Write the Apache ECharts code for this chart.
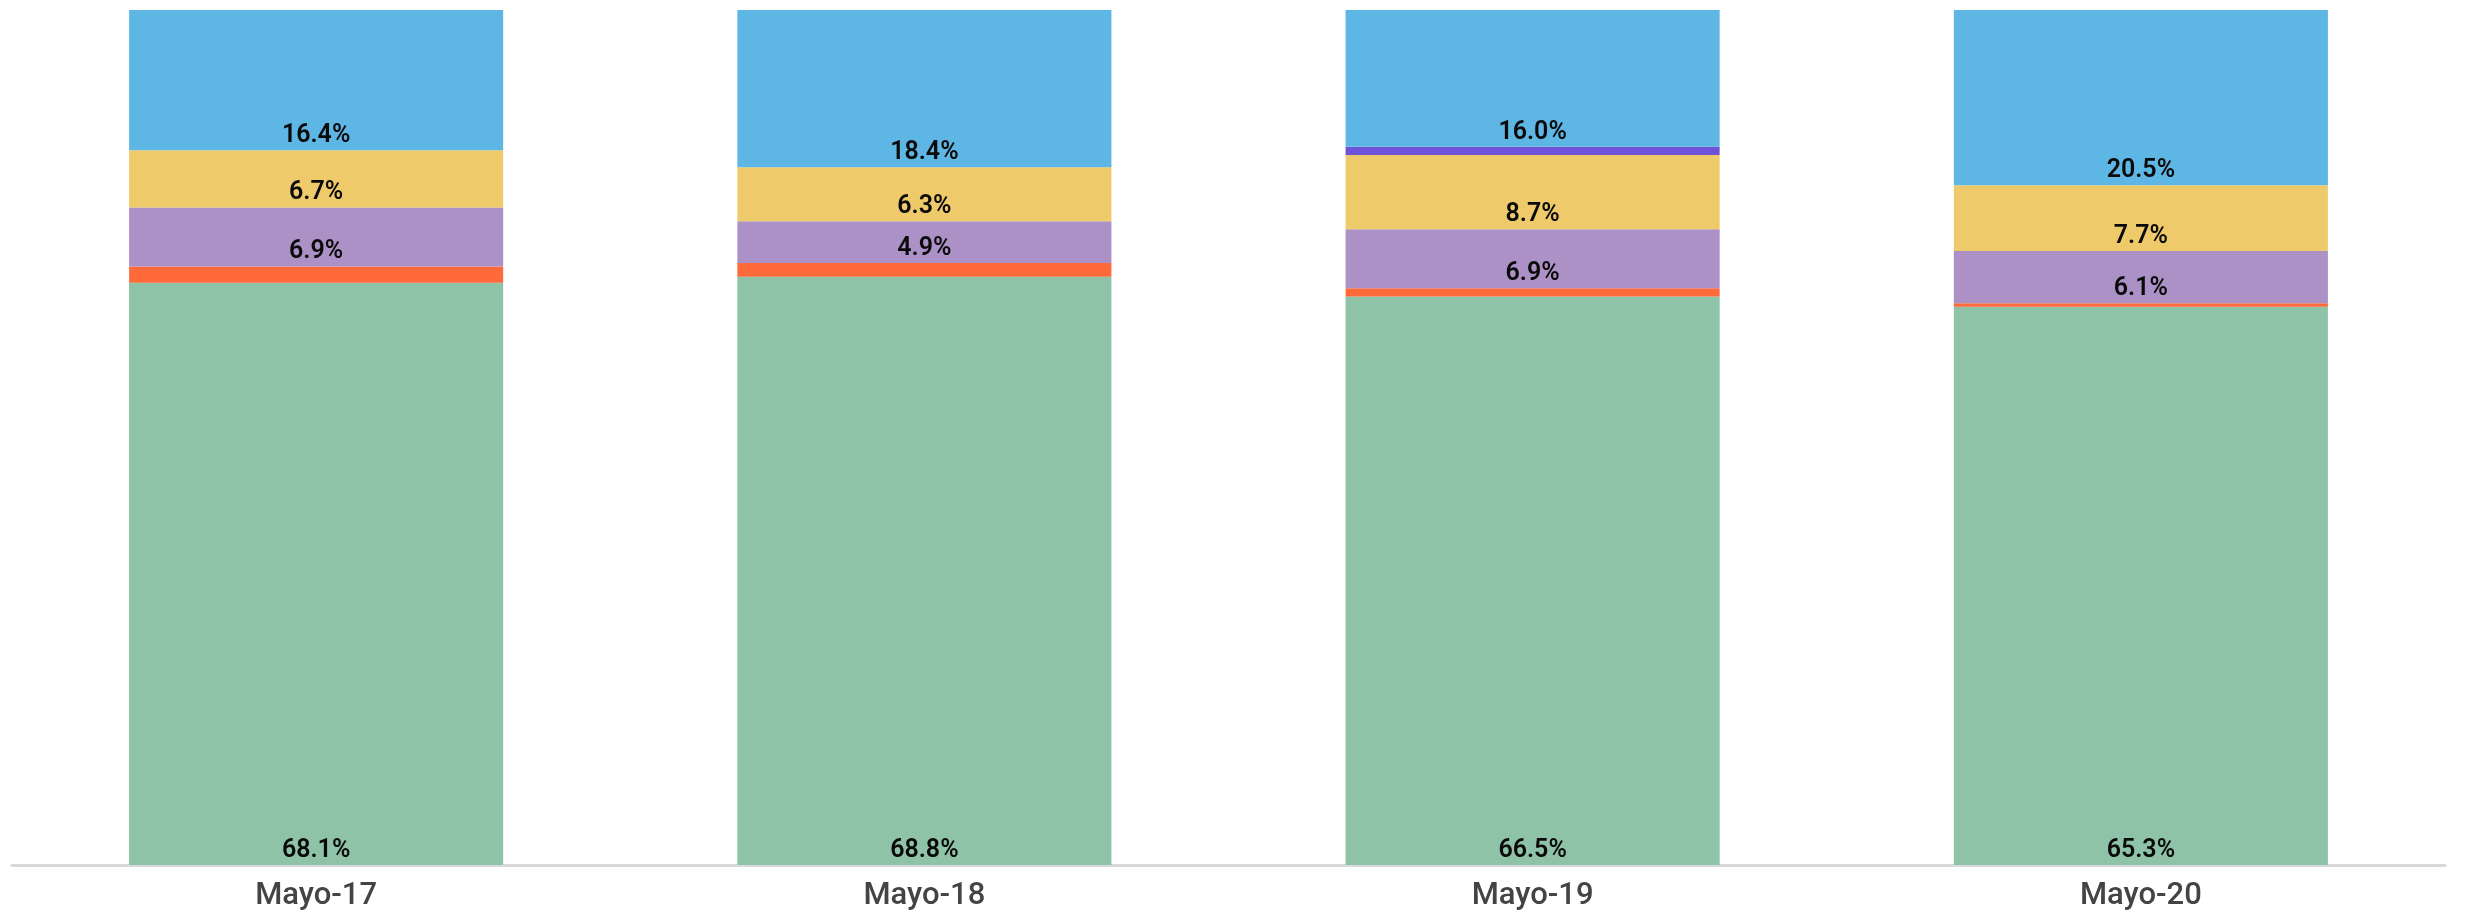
<!DOCTYPE html>
<html>
<head>
<meta charset="utf-8">
<script src="https://cdn.jsdelivr.net/npm/echarts@6/dist/echarts.min.js"></script>
<style>
  html, body { margin: 0; padding: 0; background: #ffffff; }
  #chart { width: 2465px; height: 917px; }
</style>
</head>
<body>
<div id="chart"></div>
<script>
const categories = ['Mayo-17', 'Mayo-18', 'Mayo-19', 'Mayo-20'];
const serieVerde = [68.1, 68.8, 66.5, 65.3];
const serieNaranja = [1.9, 1.6, 0.95, 0.4];
const serieLila = [6.9, 4.9, 6.9, 6.1];
const serieAmarilla = [6.7, 6.3, 8.7, 7.7];
const serieMorada = [0, 0, 0.95, 0];
const serieAzul = [16.4, 18.4, 16.0, 20.5];

const labelStyle = {
  show: true,
  position: 'insideBottom',
  distance: 2,
  color: '#0a0a0a',
  fontFamily: 'Roboto',
  fontWeight: 600,
  fontSize: 25,
  formatter: p => p.value.toFixed(1) + '%'
};

function mk(name, data, color, showLabel) {
  return {
    name: name,
    type: 'bar',
    stack: 'total',
    data: data,
    barWidth: '61.5%',
    itemStyle: { color: color },
    label: showLabel ? labelStyle : { show: false },
    emphasis: { disabled: true }
  };
}

const chart = echarts.init(document.getElementById('chart'), null, { renderer: 'canvas' });
chart.setOption({
  animation: false,
  grid: { left: 12, right: 20, top: 10, bottom: 52, containLabel: false },
  xAxis: {
    type: 'category',
    data: categories,
    axisLine: { show: true, lineStyle: { color: '#d9d9d9', width: 3 } },
    axisTick: { show: false },
    axisLabel: { color: '#444444', fontFamily: 'Roboto', fontWeight: 500, fontSize: 31, margin: 16 }
  },
  yAxis: {
    type: 'value',
    min: 0,
    max: 100,
    show: false,
    splitLine: { show: false }
  },
  series: [
    mk('Verde', serieVerde, '#8EC3A7', true),
    mk('Naranja', serieNaranja, '#FE6A3A', false),
    mk('Lila', serieLila, '#AC91C6', true),
    mk('Amarilla', serieAmarilla, '#EFCA6A', true),
    mk('Morada', serieMorada, '#6E53D9', false),
    mk('Azul', serieAzul, '#5EB6E4', true)
  ]
});
</script>
</body>
</html>
